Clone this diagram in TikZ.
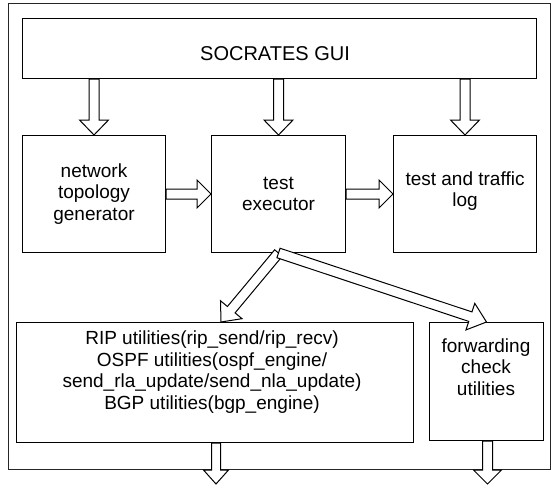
\documentclass[tikz,border=0pt]{standalone}
\usepackage{fontspec}
\setmainfont{Liberation Sans}
\usetikzlibrary{calc}
\tikzset{
  box/.style={draw, line width=1pt, inner sep=0pt, anchor=north west},
  txt/.style={align=center, inner sep=0pt, font=\fontsize{19}{21.5}\selectfont},
  arrowline/.style={draw, fill=white, line width=1pt, line join=miter},
  frameline/.style={draw=black!85, line width=0.8pt},
}
% hollow block arrow: from, to, half shaft width, half head width, head length
\newcommand\blockarrow[5]{%
  \coordinate (hh) at ($(#2)!#5!(#1)$);
  \draw[arrowline] ($(#1)!#3!90:(#2)$) -- ($(hh)!#3!90:(#2)$) -- ($(hh)!#4!90:(#2)$)
    -- (#2) -- ($(hh)!#4!-90:(#2)$) -- ($(hh)!#3!-90:(#2)$) -- ($(#1)!#3!-90:(#2)$) -- cycle;
}
\begin{document}
\begin{tikzpicture}[x=1pt, y=-1pt]
\useasboundingbox (0,0) rectangle (551,487);
% outer frame
\node[box, frameline, minimum width=542pt, minimum height=465.5pt] (frame) at (7.5,3.5) {};
% boxes
\node[box, minimum width=514pt, minimum height=60pt] (gui) at (22,18) {};
\node[txt, font=\fontsize{20}{22}\selectfont] (guit) at (275,54) {SOCRATES GUI};
\node[box, minimum width=143pt, minimum height=117pt] (net) at (22,135) {};
\node[txt] (nett) at (net.center) {network\\topology\\generator};
\node[box, minimum width=134pt, minimum height=117pt] (exe) at (211,135) {};
\node[txt] (exet) at (exe.center) {test\\executor};
\node[box, minimum width=143pt, minimum height=117pt] (log) at (393,135) {};
\node[txt] (logt) at ($(log.center)+(0,-3)$) {test and traffic\\log};
\node[box, minimum width=397pt, minimum height=120pt] (rip) at (16,322) {};
\node[txt] (ript) at (212,372) {RIP utilities(rip\_send/rip\_recv)\\OSPF utilities(ospf\_engine/\\send\_rla\_update/send\_nla\_update)\\BGP utilities(bgp\_engine)};
\node[box, minimum width=114pt, minimum height=118pt] (fwd) at (429,322) {};
\node[txt] (fwdt) at (486,367) {forwarding\\check\\utilities};
% free ends / tips
\coordinate (t1) at ($(rip.north west)+(205,0)$);
\coordinate (o1) at ($(rip.south)+(1,41)$);
\coordinate (o2) at ($(fwd.south)+(1,43)$);
% arrows
\blockarrow{net.north |- gui.south}{net.north}{5pt}{14.5pt}{15pt}
\blockarrow{exe.north |- gui.south}{exe.north}{5pt}{14.5pt}{15pt}
\blockarrow{log.north |- gui.south}{log.north}{5pt}{14.5pt}{15pt}
\blockarrow{net.east}{exe.west}{5pt}{14pt}{14pt}
\blockarrow{exe.east}{log.west}{5pt}{14pt}{14pt}
\blockarrow{exe.south}{t1}{5pt}{14pt}{16pt}
\blockarrow{exe.south}{fwd.north}{5pt}{14pt}{17pt}
\blockarrow{$(rip.south)+(1,0)$}{o1}{4.5pt}{12.5pt}{14pt}
\blockarrow{$(fwd.south)+(1,0)$}{o2}{5pt}{14pt}{14pt}
\end{tikzpicture}
\end{document}
